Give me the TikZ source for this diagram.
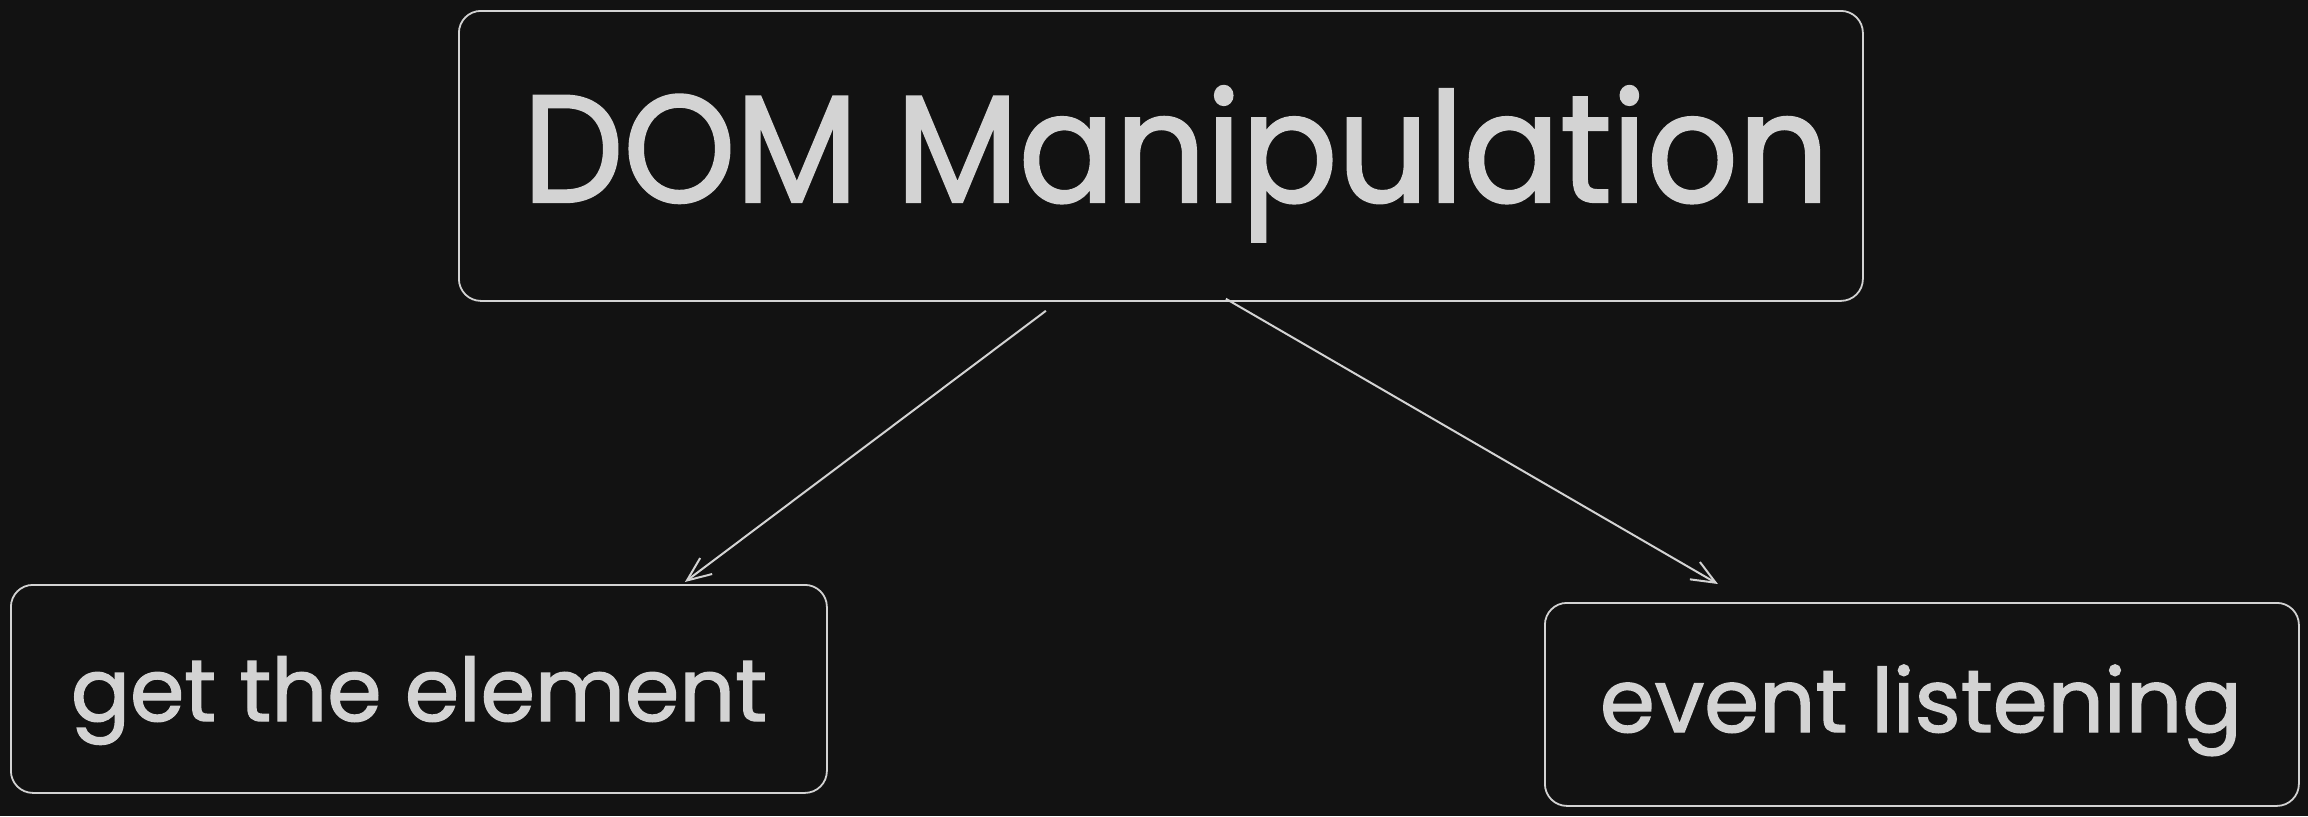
\documentclass[tikz,border=0pt]{standalone}
\usepackage{fontspec}
\setmainfont{Poppins}[FakeBold=1.6]
\usetikzlibrary{arrows.meta}
\definecolor{bg}{HTML}{121212}
\definecolor{ink}{HTML}{D3D3D3}
\begin{document}
\begin{tikzpicture}[x=0.5pt,y=-0.5pt,
  box/.style={draw=ink, line width=0.9pt, rounded corners=11pt, inner sep=0pt, anchor=north west},
  lbl/.style={text=ink, anchor=base, inner sep=0pt},
  arr/.style={draw=ink, line width=1pt, -{Straight Barb[length=12pt,width=10pt,line width=1pt]}}]
\fill[bg] (0,0) rectangle (2308,816);
\useasboundingbox (0,0) rectangle (2308,816);
\node[box, minimum width=702pt, minimum height=145pt] (top) at (458,10) {};
\node[box, minimum width=408pt, minimum height=104pt] (left) at (10,584) {};
\node[box, minimum width=377pt, minimum height=101.5pt] (right) at (1544,602) {};
\node[lbl] (ttop) at (1176,202) {\resizebox{653pt}{58pt}{DOM Manipulation}};
\node[lbl] (tleft) at (419,721) {\resizebox{348pt}{!}{get the element}};
\node[lbl] (tright) at (1921,732) {\resizebox{321pt}{!}{event listening}};
\draw[arr] ([shift={(-115,9)}]top.south) -- ([shift={(266,-2)}]left.north);
\draw[arr] ([shift={(65,-3)}]top.south) -- ([shift={(-204,-18)}]right.north);
\end{tikzpicture}
\end{document}
